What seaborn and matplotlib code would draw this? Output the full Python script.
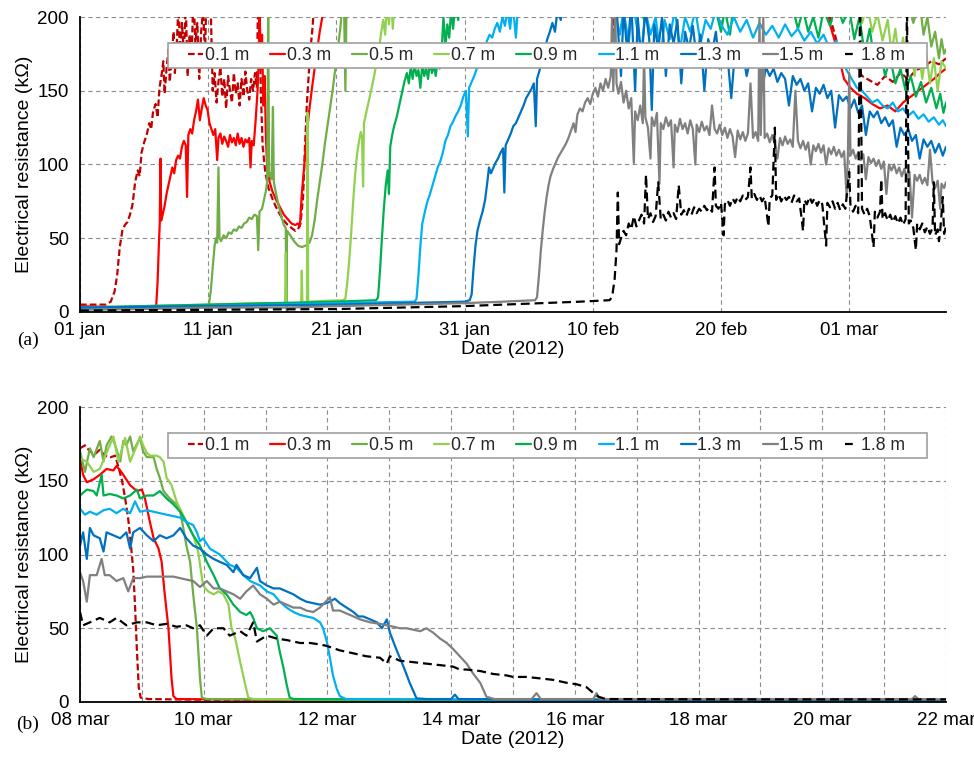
import numpy as np
import pandas as pd
import matplotlib
matplotlib.use("Agg")
import matplotlib.pyplot as plt
from matplotlib.patches import Rectangle
import seaborn as sns

# ---------------- labels / ticks ----------------
depth_labels = ["0.1 m", "0.3 m", "0.5 m", "0.7 m", "0.9 m", "1.1 m", "1.3 m", "1.5 m", "1.8 m"]
line_colors = ["#C00000", "#FF0000", "#70AD47", "#92D050", "#00B050", "#00B0F0", "#0070C0", "#808080", "#000000"]

top_tick_days = [0, 10, 20, 30, 40, 50, 60]
top_tick_labels = ["01 jan", "11 jan", "21 jan", "31 jan", "10 feb", "20 feb", "01 mar"]
bot_tick_days = list(range(15))
bot_tick_labels = ["08 mar", "", "10 mar", "", "12 mar", "", "14 mar", "", "16 mar", "", "18 mar", "", "20 mar", "", "22 mar"]
y_ticks = [0, 50, 100, 150, 200]

# ---------------- panel (a): (days since 01 jan 2012, kOhm) ----------------
top_01 = [(0,5),(1,5),(2,5),(2.4,7),(2.7,14),(2.9,25),(3.1,44),(3.3,55),(3.5,59),(3.7,61),(3.9,66),(4.1,73),(4.3,88),(4.5,96),(4.65,92),(4.8,108),(5.0,115),(5.2,120),(5.4,128),(5.55,124),(5.7,136),(5.9,141),(6.05,132),(6.2,152),(6.35,160),(6.5,170),(6.6,148),(6.75,165),(6.9,178),(7.0,156),(7.15,172),(7.3,190),(7.4,162),(7.55,182),(7.7,212),(7.8,168),(7.95,196),(8.1,176),(8.25,208),(8.4,160),(8.55,188),(8.7,172),(8.85,215),(9.0,182),(9.15,196),(9.3,158),(9.45,190),(9.6,205),(9.75,175),(9.9,228),(10.05,240),(10.2,205),(10.35,150),(10.5,162),(10.65,142),(10.8,156),(10.95,166),(11.1,146),(11.25,158),(11.4,138),(11.55,160),(11.7,150),(11.85,142),(12.0,162),(12.15,148),(12.3,155),(12.45,140),(12.6,158),(12.75,146),(12.9,163),(13.05,150),(13.2,144),(13.35,158),(13.5,150),(13.65,162),(13.8,152),(13.9,225),(14.0,215),(14.1,150),(14.25,112),(14.45,95),(14.7,84),(15.0,77),(15.3,71),(15.6,66),(15.9,62),(16.2,59),(16.5,57),(16.8,55),(17.0,56),(17.2,60),(17.4,78),(17.55,112),(17.7,142),(17.85,162),(18.0,180),(18.15,194),(18.3,215),(18.6,235),(20,240),(25,245),(30,250),(35,245),(41.5,230),(41.6,190),(41.7,186),(41.8,230),(45,240),(50,240),(55,235),(57.5,215),(58.5,200),(59.2,178),(59.8,165),(60.4,170),(61.0,160),(61.6,157),(62.2,154),(62.8,160),(63.4,156),(64.0,162),(64.6,158),(65.2,164),(65.8,166),(66.4,170),(67.0,168),(67.55,172)]
top_03 = [(0,4),(2,3.5),(4,3),(5.8,3),(5.95,5),(6.05,20),(6.15,45),(6.22,60),(6.28,104),(6.33,62),(6.45,66),(6.6,72),(6.75,80),(6.9,86),(7.05,92),(7.2,98),(7.35,94),(7.5,103),(7.65,106),(7.8,104),(7.95,112),(8.1,116),(8.25,113),(8.35,78),(8.45,120),(8.6,124),(8.75,121),(8.9,130),(9.05,136),(9.2,144),(9.35,130),(9.5,138),(9.65,145),(9.8,140),(9.95,137),(10.1,128),(10.25,124),(10.4,120),(10.55,124),(10.7,103),(10.8,118),(10.95,121),(11.1,114),(11.25,119),(11.4,116),(11.55,112),(11.7,120),(11.85,115),(12.0,118),(12.15,113),(12.3,121),(12.45,114),(12.6,118),(12.75,112),(12.9,117),(13.05,115),(13.2,118),(13.3,98),(13.4,116),(13.55,113),(13.7,130),(13.85,150),(13.95,172),(14.0,210),(14.1,165),(14.2,188),(14.3,140),(14.4,160),(14.5,120),(14.6,98),(14.8,88),(15.0,82),(15.3,76),(15.6,71),(15.9,66),(16.2,63),(16.5,60),(16.8,59),(17.0,60),(17.15,58),(17.3,80),(17.5,100),(17.7,122),(17.9,138),(18.1,152),(18.3,165),(18.5,178),(18.7,190),(18.9,200),(19.1,215),(20,230),(25,240),(30,250),(40,250),(50,245),(56,230),(58,210),(59,180),(59.6,158),(60.1,152),(60.6,148),(61.2,145),(61.8,141),(62.4,138),(63.0,140),(63.6,136),(64.2,142),(64.8,146),(65.4,150),(66.0,154),(66.6,158),(67.1,162),(67.55,165)]
top_05 = [(0,3),(5,3),(9.9,3.5),(10.05,5),(10.2,14),(10.35,30),(10.5,45),(10.6,50),(10.7,47),(10.8,98),(10.88,50),(11.0,48),(11.2,52),(11.4,50),(11.6,54),(11.8,53),(12.0,56),(12.2,55),(12.4,58),(12.6,57),(12.8,60),(13.0,61),(13.2,64),(13.4,63),(13.6,66),(13.8,65),(13.9,42),(14.0,68),(14.2,70),(14.35,76),(14.5,82),(14.6,88),(14.68,210),(14.75,92),(14.85,94),(14.95,90),(15.05,139),(15.12,88),(15.3,80),(15.5,72),(15.7,65),(15.9,59),(16.05,57),(16.1,4),(16.15,55),(16.4,52),(16.7,48),(17.0,45),(17.3,44),(17.6,45),(17.9,47),(18.1,52),(18.3,62),(18.5,76),(18.7,88),(18.9,100),(19.1,114),(19.3,126),(19.5,138),(19.7,150),(19.9,164),(20.1,178),(20.3,192),(20.5,210),(20.6,205),(20.7,150),(20.8,215),(22,230),(25,240),(30,245),(40,250),(50,245),(60,235),(63,220),(64,205),(64.5,212),(65.0,196),(65.5,210),(65.8,188),(66.1,200),(66.4,180),(66.7,190),(67.0,172),(67.2,185),(67.4,175),(67.55,178)]
top_07 = [(0,3),(5,4),(10,5),(14,6),(16.0,6),(16.05,40),(16.1,6),(17.25,6),(17.3,28),(17.35,6),(17.7,7),(17.75,135),(17.8,7),(19,7.5),(20.5,8),(20.7,9),(20.85,20),(21.0,35),(21.15,53),(21.3,74),(21.45,92),(21.6,106),(21.75,115),(21.9,122),(22.0,118),(22.08,85),(22.15,128),(22.3,134),(22.45,140),(22.6,146),(22.75,152),(22.9,158),(23.05,165),(23.2,172),(23.35,180),(23.5,190),(23.65,198),(23.8,188),(23.95,210),(24.1,195),(24.25,215),(24.4,192),(24.6,220),(26,235),(30,245),(40,250),(50,245),(55,230),(58,220),(59.5,210),(60.2,200),(60.6,212),(61.0,196),(61.4,208),(61.8,190),(62.2,202),(62.6,184),(63.0,198),(63.3,176),(63.6,192),(63.9,170),(64.2,186),(64.5,165),(64.8,182),(65.1,160),(65.4,178),(65.7,158),(66.0,176),(66.3,155),(66.6,172),(66.9,150),(67.2,170),(67.55,165)]
top_09 = [(0,3),(5,4),(10,5),(15,6),(20,7),(23.1,8),(23.25,10),(23.4,28),(23.55,50),(23.7,70),(23.85,86),(24.0,96),(24.1,80),(24.2,112),(24.35,120),(24.5,126),(24.7,132),(24.9,140),(25.1,148),(25.3,156),(25.5,162),(25.65,155),(25.8,166),(25.95,158),(26.1,168),(26.25,160),(26.4,164),(26.55,152),(26.7,168),(26.85,160),(27.0,165),(27.15,158),(27.3,170),(27.45,162),(27.6,167),(27.75,160),(27.9,172),(28.05,165),(28.2,176),(28.35,200),(28.5,180),(28.65,195),(28.8,186),(28.95,205),(29.1,192),(29.3,210),(29.5,198),(29.7,215),(31,225),(35,235),(40,230),(43.5,215),(44.0,198),(44.3,215),(47,220),(49.5,208),(50.0,190),(50.3,205),(50.7,188),(51.0,210),(53,215),(55.5,210),(56.0,192),(56.4,205),(56.8,190),(57.2,200),(57.6,186),(58.0,205),(58.5,194),(59.0,210),(59.5,196),(60.0,205),(60.4,185),(60.8,200),(61.2,175),(61.6,192),(62.0,168),(62.4,180),(62.8,160),(63.2,172),(63.6,155),(64.0,165),(64.4,150),(64.8,160),(65.2,146),(65.6,156),(66.0,142),(66.4,152),(66.8,138),(67.1,148),(67.35,135),(67.55,142)]
top_11 = [(0,3),(5,3.5),(10,4),(15,5),(20,6),(26.1,7),(26.25,9),(26.4,25),(26.55,45),(26.7,60),(26.9,68),(27.1,75),(27.3,80),(27.5,86),(27.7,92),(27.9,98),(28.1,102),(28.3,108),(28.5,116),(28.7,120),(28.9,126),(29.1,129),(29.3,133),(29.5,136),(29.7,140),(29.9,146),(30.1,150),(30.25,119),(30.35,152),(30.55,156),(30.75,160),(30.95,165),(31.15,170),(31.35,174),(31.55,179),(31.75,184),(31.95,188),(32.15,186),(32.35,192),(32.55,196),(32.75,190),(32.95,200),(33.15,194),(33.35,205),(33.55,192),(33.75,210),(34.0,186),(34.2,212),(35,220),(37,215),(40,222),(41.8,200),(42.1,188),(42.4,205),(42.8,182),(43.1,210),(43.5,190),(43.8,176),(44.1,205),(44.5,188),(44.9,200),(45.3,172),(45.6,198),(46.0,185),(46.4,205),(46.8,178),(47.2,200),(47.6,190),(48.0,205),(48.4,182),(48.8,198),(49.2,192),(49.6,205),(50.0,195),(50.5,188),(51.0,200),(51.5,190),(52.0,198),(52.5,186),(53.0,196),(53.5,188),(54.0,194),(54.5,186),(55.0,195),(55.5,187),(56.0,192),(56.5,184),(57.0,190),(57.5,182),(58.0,188),(58.5,178),(59.0,184),(59.4,170),(59.8,164),(60.2,158),(60.6,152),(61.0,150),(61.4,146),(61.8,142),(62.2,144),(62.6,140),(63.0,138),(63.4,142),(63.8,136),(64.2,138),(64.6,133),(65.0,136),(65.4,131),(65.8,134),(66.2,129),(66.6,132),(67.0,127),(67.3,130),(67.55,126)]
top_13 = [(0,3),(5,3.5),(10,4),(15,4.5),(20,5),(25,6),(30,7),(30.4,8),(30.55,12),(30.7,30),(30.85,45),(31.0,55),(31.2,62),(31.4,68),(31.6,76),(31.8,90),(31.9,98),(32.05,94),(32.2,97),(32.4,101),(32.6,104),(32.8,108),(33.0,111),(33.1,81),(33.2,113),(33.4,117),(33.6,121),(33.8,126),(34.0,128),(34.2,132),(34.4,136),(34.6,140),(34.8,145),(35.0,148),(35.2,151),(35.4,155),(35.55,126),(35.65,158),(35.85,164),(36.05,170),(36.25,178),(36.45,185),(36.65,190),(36.85,196),(37.05,190),(37.25,205),(37.5,198),(37.8,215),(39,225),(41.5,215),(41.9,200),(42.2,160),(42.4,205),(42.7,175),(43.0,210),(43.3,150),(43.5,200),(43.8,170),(44.1,205),(44.4,185),(44.6,137),(44.8,195),(45.1,178),(45.4,200),(45.7,160),(46.0,195),(46.3,182),(46.6,198),(46.9,155),(47.2,190),(47.5,178),(47.8,194),(48.1,172),(48.4,188),(48.7,150),(49.0,185),(49.3,176),(49.6,190),(49.9,165),(50.2,182),(50.5,174),(50.8,145),(51.1,178),(51.4,170),(51.7,176),(52.0,160),(52.3,172),(52.6,166),(52.9,170),(53.2,150),(53.5,166),(53.8,160),(54.1,165),(54.4,156),(54.7,162),(55.0,158),(55.3,140),(55.6,160),(55.9,154),(56.2,158),(56.5,150),(56.8,155),(57.1,136),(57.4,152),(57.7,148),(58.0,154),(58.3,145),(58.6,150),(58.9,125),(59.2,147),(59.5,143),(59.8,146),(60.1,138),(60.4,144),(60.7,135),(61.0,140),(61.3,120),(61.6,136),(61.9,132),(62.2,136),(62.5,128),(62.8,132),(63.1,126),(63.4,130),(63.7,112),(64.0,125),(64.3,120),(64.6,124),(64.9,116),(65.2,120),(65.5,104),(65.8,117),(66.1,112),(66.4,116),(66.7,108),(67.0,114),(67.3,106),(67.55,112)]
top_15 = [(0,1.5),(5,2),(10,3),(16.1,3),(16.15,0),(16.2,3),(20,4),(25,5),(30,6),(33,7),(35.5,8),(35.65,10),(35.8,25),(35.95,42),(36.1,56),(36.25,68),(36.4,78),(36.55,86),(36.7,92),(36.9,97),(37.1,101),(37.3,105),(37.5,108),(37.7,111),(37.9,114),(38.1,118),(38.3,123),(38.5,128),(38.65,122),(38.8,134),(39.0,138),(39.2,136),(39.4,142),(39.6,145),(39.8,141),(40.0,148),(40.2,152),(40.4,146),(40.6,155),(40.8,150),(41.0,158),(41.2,152),(41.4,160),(41.5,200),(41.6,150),(41.75,205),(41.85,155),(42.0,148),(42.2,156),(42.4,142),(42.6,150),(42.8,138),(43.0,145),(43.2,101),(43.3,136),(43.5,130),(43.7,140),(43.9,128),(44.0,175),(44.1,132),(44.3,125),(44.5,104),(44.6,132),(44.8,126),(45.0,135),(45.2,87),(45.3,128),(45.5,124),(45.7,132),(45.9,126),(46.1,130),(46.3,98),(46.4,127),(46.6,122),(46.8,131),(47.0,124),(47.2,128),(47.4,121),(47.6,130),(47.8,124),(48.0,100),(48.1,127),(48.3,122),(48.5,129),(48.7,123),(48.9,126),(49.1,120),(49.3,140),(49.5,124),(49.7,121),(49.9,127),(50.1,120),(50.3,125),(50.5,118),(50.7,124),(50.9,119),(51.1,105),(51.3,123),(51.5,117),(51.7,122),(51.9,116),(52.1,121),(52.3,155),(52.5,118),(52.7,122),(52.9,116),(53.0,200),(53.1,120),(53.3,200),(53.4,118),(53.6,121),(53.8,115),(54.0,120),(54.2,114),(54.4,104),(54.6,118),(54.8,113),(55.0,119),(55.2,114),(55.4,117),(55.6,112),(55.8,150),(56.0,116),(56.2,111),(56.4,116),(56.6,110),(56.8,115),(57.0,100),(57.2,113),(57.4,109),(57.6,114),(57.8,108),(58.0,113),(58.2,100),(58.4,111),(58.6,107),(58.8,112),(59.0,106),(59.2,110),(59.4,105),(59.6,109),(59.8,78),(59.9,108),(60.0,162),(60.1,106),(60.3,110),(60.5,104),(60.7,108),(60.9,103),(61.1,107),(61.3,90),(61.5,105),(61.7,101),(61.9,104),(62.1,99),(62.3,103),(62.5,97),(62.7,102),(62.9,80),(63.1,100),(63.3,96),(63.5,100),(63.7,94),(63.9,98),(64.1,92),(64.3,97),(64.5,91),(64.7,95),(64.9,64),(65.1,93),(65.3,89),(65.5,93),(65.7,87),(65.9,91),(66.1,86),(66.3,110),(66.5,88),(66.7,84),(66.9,89),(67.1,70),(67.2,87),(67.4,84),(67.55,88)]
top_18 = [(0,1),(10,1.5),(20,2),(25,3),(30,4),(36,6),(39,7),(41.3,8),(41.5,10),(41.7,22),(41.85,42),(41.95,81),(42.05,46),(42.2,50),(42.4,55),(42.6,52),(42.8,60),(43.0,56),(43.2,65),(43.4,58),(43.6,62),(43.8,66),(44.0,60),(44.15,93),(44.3,63),(44.5,67),(44.7,61),(44.9,65),(45.1,88),(45.3,63),(45.5,66),(45.7,62),(45.9,68),(46.1,64),(46.3,67),(46.5,63),(46.7,86),(46.9,66),(47.1,69),(47.3,65),(47.5,70),(47.7,66),(47.9,71),(48.1,67),(48.3,70),(48.5,68),(48.7,72),(48.9,69),(49.1,71),(49.3,68),(49.5,98),(49.6,72),(49.8,70),(50.0,74),(50.2,52),(50.3,73),(50.5,76),(50.7,72),(50.9,77),(51.1,74),(51.3,78),(51.5,75),(51.7,79),(51.9,76),(52.1,78),(52.3,98),(52.4,77),(52.6,80),(52.8,76),(53.0,79),(53.2,75),(53.4,78),(53.7,58),(53.8,77),(54.0,79),(54.2,125),(54.3,76),(54.5,80),(54.7,75),(54.9,79),(55.1,76),(55.3,78),(55.5,74),(55.7,79),(55.9,75),(56.1,77),(56.4,55),(56.5,76),(56.7,73),(56.9,78),(57.1,74),(57.3,77),(57.5,72),(57.7,76),(57.9,73),(58.2,45),(58.3,74),(58.5,71),(58.7,75),(58.9,70),(59.1,74),(59.3,69),(59.5,73),(59.7,70),(60.0,95),(60.1,72),(60.3,68),(60.5,72),(60.7,67),(60.85,215),(61.0,70),(61.2,66),(61.4,70),(61.6,65),(61.9,44),(62.0,68),(62.2,64),(62.4,68),(62.5,90),(62.6,63),(62.8,67),(63.0,62),(63.2,66),(63.4,61),(63.6,65),(63.8,60),(64.0,64),(64.2,59),(64.4,63),(64.5,215),(64.65,60),(64.8,62),(65.0,57),(65.2,42),(65.3,60),(65.5,56),(65.7,60),(65.9,54),(66.1,58),(66.3,53),(66.5,57),(66.6,88),(66.7,52),(66.9,56),(67.0,48),(67.1,55),(67.3,78),(67.4,53),(67.55,58)]

# ---------------- panel (b): (days since 08 mar 2012, kOhm) ----------------
bot_01 = [(0,172),(0.08,174),(0.16,170),(0.24,168),(0.32,171),(0.4,167),(0.5,166),(0.57,167),(0.63,158),(0.68,150),(0.73,138),(0.78,124),(0.82,108),(0.86,90),(0.89,65),(0.92,35),(0.95,10),(0.98,3),(1.1,2),(2,1.5),(5,1.2),(14,1)]
bot_03 = [(0,165),(0.05,154),(0.11,149),(0.22,151),(0.32,154),(0.43,158),(0.54,157),(0.59,160),(0.65,157),(0.7,154),(0.81,147),(0.92,143),(1.0,144),(1.05,138),(1.13,122),(1.19,111),(1.27,104),(1.32,95),(1.37,73),(1.43,50),(1.48,16),(1.51,4),(1.56,2),(3,1.5),(14,1)]
bot_05 = [(0,170),(0.08,156),(0.16,172),(0.22,166),(0.32,177),(0.38,163),(0.43,174),(0.51,180),(0.57,174),(0.65,163),(0.7,177),(0.75,174),(0.81,180),(0.86,170),(0.97,179),(1.02,170),(1.08,166),(1.19,166),(1.24,158),(1.29,152),(1.35,143),(1.45,138),(1.56,134),(1.62,129),(1.67,118),(1.72,106),(1.78,95),(1.83,73),(1.89,50),(1.94,16),(1.97,3),(2.05,2),(4,1.5),(14,1.2)]
bot_07 = [(0,165),(0.11,163),(0.22,156),(0.32,158),(0.43,169),(0.54,180),(0.62,163),(0.73,179),(0.81,163),(0.92,174),(0.97,180),(1.02,174),(1.08,169),(1.13,167),(1.24,167),(1.29,166),(1.35,163),(1.4,152),(1.48,147),(1.56,136),(1.64,129),(1.72,122),(1.83,113),(1.91,102),(1.99,79),(2.07,75),(2.16,73),(2.24,75),(2.32,73),(2.4,66),(2.45,50),(2.51,43),(2.59,27),(2.67,12),(2.72,3),(2.8,2),(5,1.5),(14,1.2)]
bot_09 = [(0,140),(0.11,144),(0.22,143),(0.27,140),(0.35,154),(0.38,140),(0.48,141),(0.59,140),(0.7,138),(0.81,140),(0.92,144),(0.97,138),(1.08,140),(1.19,140),(1.29,143),(1.4,138),(1.51,134),(1.62,129),(1.72,122),(1.83,113),(1.94,106),(2.05,95),(2.16,86),(2.26,77),(2.37,73),(2.48,66),(2.59,61),(2.69,59),(2.75,61),(2.8,57),(2.86,50),(2.96,48),(3.07,50),(3.18,45),(3.23,34),(3.29,23),(3.34,12),(3.39,3),(3.45,2),(6,1.5),(14,1.2)]
bot_11 = [(0,131),(0.08,127),(0.16,129),(0.27,127),(0.38,130),(0.48,131),(0.59,128),(0.7,131),(0.81,128),(0.89,136),(0.97,129),(1.08,130),(1.19,129),(1.29,128),(1.4,127),(1.51,126),(1.62,125),(1.72,122),(1.83,120),(1.89,115),(1.94,109),(1.99,111),(2.1,104),(2.26,100),(2.42,93),(2.53,91),(2.64,86),(2.75,82),(2.91,79),(3.02,75),(3.13,73),(3.23,68),(3.34,64),(3.45,61),(3.56,59),(3.66,58),(3.77,57),(3.88,54),(3.93,50),(3.99,41),(4.04,30),(4.09,18),(4.15,9),(4.2,4),(4.3,2),(7,1.5),(14,1.2)]
bot_13 = [(0,106),(0.05,115),(0.11,97),(0.16,118),(0.22,113),(0.32,111),(0.38,102),(0.43,115),(0.54,113),(0.65,111),(0.75,115),(0.81,104),(0.86,115),(0.97,118),(1.08,113),(1.19,109),(1.29,113),(1.4,111),(1.51,113),(1.62,118),(1.72,111),(1.83,106),(1.94,104),(2.05,100),(2.16,97),(2.26,95),(2.37,93),(2.48,88),(2.53,93),(2.64,86),(2.75,84),(2.86,91),(2.91,82),(3.02,79),(3.13,77),(3.23,77),(3.34,75),(3.45,73),(3.56,70),(3.66,68),(3.77,67),(3.88,66),(3.99,67),(4.12,70),(4.2,67),(4.31,64),(4.42,61),(4.5,58),(4.58,58),(4.69,56),(4.8,54),(4.88,50),(4.96,56),(5.01,47),(5.12,35),(5.23,24),(5.33,13),(5.44,2.5),(5.6,2),(6.0,2),(6.06,5),(6.12,2),(9,1.5),(14,1.3)]
bot_15 = [(0,88),(0.05,82),(0.11,68),(0.16,86),(0.27,86),(0.35,97),(0.4,86),(0.48,86),(0.59,82),(0.7,84),(0.78,75),(0.86,84),(0.97,84),(1.08,85),(1.29,85),(1.51,85),(1.72,83),(1.83,82),(1.94,78),(2.05,82),(2.16,77),(2.26,77),(2.37,75),(2.48,73),(2.59,70),(2.69,75),(2.8,79),(2.91,73),(3.02,70),(3.13,66),(3.23,68),(3.34,66),(3.45,64),(3.56,64),(3.66,62),(3.77,61),(3.88,64),(4.04,71),(4.09,62),(4.2,62),(4.31,60),(4.42,58),(4.53,56),(4.69,54),(4.85,53),(4.96,52),(5.07,51),(5.17,50),(5.28,50),(5.39,49),(5.5,48),(5.6,50),(5.71,47),(5.82,43),(5.93,40),(6.03,36),(6.14,31),(6.25,26),(6.36,19),(6.47,13),(6.57,3.6),(6.7,2),(7.3,2),(7.38,6),(7.45,2),(8.3,2),(8.35,6),(8.4,2),(13.45,2),(13.5,4),(13.55,2),(14,1.8)]
bot_18 = [(0,61),(0.05,52),(0.16,54),(0.32,57),(0.48,54),(0.59,57),(0.75,52),(0.92,54),(1.08,54),(1.24,52),(1.4,53),(1.56,51),(1.72,52),(1.83,50),(1.94,52),(2.05,45),(2.16,50),(2.32,50),(2.42,45),(2.59,48),(2.69,45),(2.8,54),(2.86,41),(3.02,45),(3.18,43),(3.34,42),(3.45,41),(3.56,40),(3.72,40),(3.88,39),(3.99,38),(4.2,35),(4.42,33),(4.63,31),(4.85,30),(4.96,26),(5.01,31),(5.17,28),(5.39,27),(5.6,26),(5.82,25),(6.03,24),(6.14,22),(6.25,22),(6.47,21),(6.68,19),(6.9,18),(7.0,17),(7.22,17),(7.44,16),(7.65,15),(7.87,13),(8.03,12),(8.19,10),(8.3,6),(8.38,3.6),(8.5,2),(11,1.8),(14,1.8)]

top_series = [top_01, top_03, top_05, top_07, top_09, top_11, top_13, top_15, top_18]
bot_series = [bot_01, bot_03, bot_05, bot_07, bot_09, bot_11, bot_13, bot_15, bot_18]

# ---------------- style ----------------
sns.set_theme(style="white")
plt.rcParams["font.family"] = ["Liberation Sans", "DejaVu Sans"]

fig = plt.figure(figsize=(9.74, 7.59), dpi=100)
W, H = 974.0, 759.0
ax_top = fig.add_axes([80 / W, (H - 312) / H, 866 / W, 295 / H])
ax_bot = fig.add_axes([80 / W, (H - 702) / H, 866 / W, 295 / H])

line_dashes = {"0.1 m": (3.0, 1.4), "1.8 m": (4.0, 2.2)}
legend_dashes = {"0.1 m": (3.0, 1.4), "1.8 m": (3.5, 6.0)}


def draw_panel(ax, series, xlim, xticks, xticklabels, tag, tag_y):
    for pts, lab, col in zip(series, depth_labels, line_colors):
        arr = np.asarray(pts, dtype=float)
        df = pd.DataFrame({"day": arr[:, 0], "R": arr[:, 1]})
        kw = {}
        if lab in line_dashes:
            kw["linestyle"] = (0, line_dashes[lab])
        sns.lineplot(data=df, x="day", y="R", ax=ax, color=col, linewidth=1.6,
                     label=lab, estimator=None, sort=False, **kw)
    ax.set_xlim(*xlim)
    ax.set_ylim(0, 200)
    ax.set_yticks(y_ticks)
    ax.set_xticks(xticks)
    ax.set_xticklabels(xticklabels)
    ax.grid(True, color="#8c8c8c", linestyle=(0, (4, 3)), linewidth=0.8)
    ax.set_axisbelow(True)
    for s in ["top", "right"]:
        ax.spines[s].set_visible(False)
    for s in ["left", "bottom"]:
        ax.spines[s].set_color("black")
        ax.spines[s].set_linewidth(1.3)
    ax.tick_params(axis="both", length=0, labelsize=13.5, colors="black")
    ax.tick_params(axis="x", pad=7)
    ax.tick_params(axis="y", pad=8)
    ax.set_xlabel("Date (2012)", fontsize=14, labelpad=2, color="black")
    ax.set_ylabel("Electrical resistance (k\u03a9)", fontsize=14, labelpad=3, color="black")
    # legend box (white, grey edge) drawn over the lines
    box = Rectangle((0.1016, 0.826), 0.978 - 0.1016, 0.912 - 0.826, transform=ax.transAxes,
                    facecolor="white", edgecolor="#a0a0a0", linewidth=1.2, zorder=4.9,
                    clip_on=False)
    ax.add_patch(box)
    h, l = ax.get_legend_handles_labels()
    leg = ax.legend(h, l, ncol=9, loc="center left", bbox_to_anchor=(0.1247, 0.869),
                    frameon=False, fontsize=12.7, handlelength=0.85, handletextpad=0.1,
                    columnspacing=1.2, borderpad=0, borderaxespad=0)
    for ln, lab in zip(leg.get_lines(), l):
        if lab in legend_dashes:
            ln.set_linestyle((0, legend_dashes[lab]))
    fig.text(28 / W, 1 - tag_y / H, tag, ha="center", va="center",
             family=["Liberation Serif", "DejaVu Serif"], fontsize=14, color="black")


draw_panel(ax_top, top_series, (0, 67.55), top_tick_days, top_tick_labels, "(a)", 340)
draw_panel(ax_bot, bot_series, (0, 14), bot_tick_days, bot_tick_labels, "(b)", 724)

fig.savefig("out.png", dpi=100)
